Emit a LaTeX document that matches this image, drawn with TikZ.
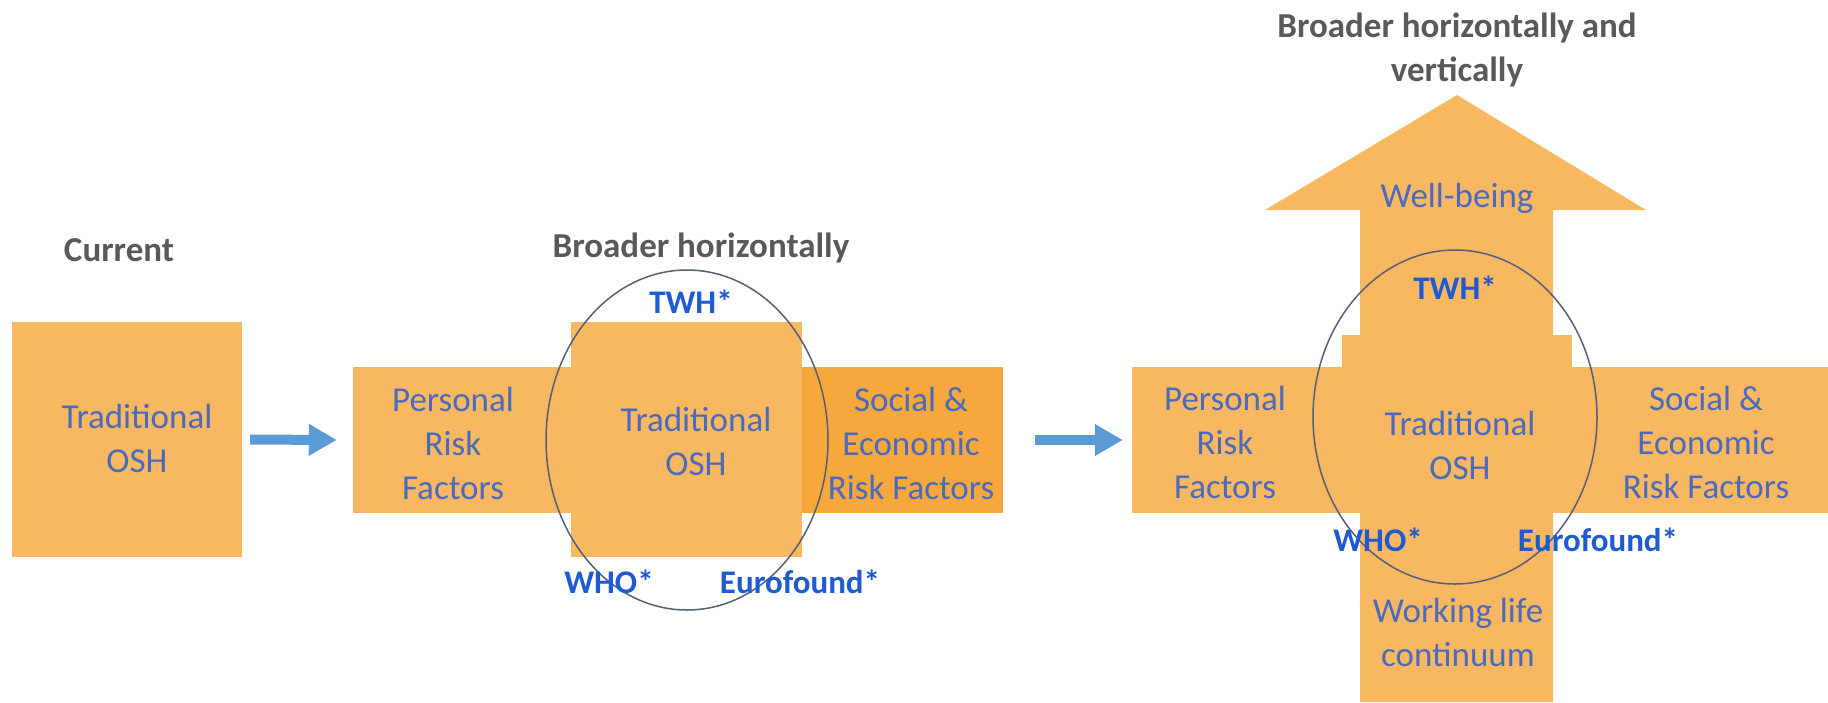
\documentclass[tikz,border=0pt]{standalone}
\usepackage{fontspec}
\setmainfont{Carlito}
\usetikzlibrary{arrows.meta,shapes.geometric}
\definecolor{orng}{RGB}{248,184,98}
\definecolor{orngdark}{RGB}{246,168,60}
\definecolor{txtblue}{RGB}{74,106,190}
\definecolor{tagblue}{RGB}{30,90,210}
\definecolor{headgray}{RGB}{89,89,89}
\definecolor{arrblue}{RGB}{91,155,213}
\definecolor{ringc}{RGB}{85,95,120}
\begin{document}
\begin{tikzpicture}[x=1pt,y=-1pt,
  shp/.style={fill=orng, draw=none, inner sep=0pt, rectangle},
  lbl/.style={text=txtblue, font=\fontsize{35}{44}\selectfont, align=center, inner sep=0pt},
  tag/.style={text=tagblue, font=\fontsize{33}{40}\selectfont\bfseries, inner sep=0pt},
  head/.style={text=headgray, font=\fontsize{35}{44}\selectfont\bfseries, align=center, inner sep=0pt},
  flow/.style={draw=arrblue, line width=10pt, -{Triangle[length=28pt,width=30pt]}},
  ring/.style={draw=ringc, line width=1.5pt, ellipse, fill=none, inner sep=0pt}]
\useasboundingbox (0,0) rectangle (1828,702);

% ---------- left: current ----------
\node[shp, minimum width=230pt, minimum height=235pt] (cur) at (127,439.5) {};
\node[head] (hcur) at (119,250) {Current};
\node[lbl] (tcur) at (137,438) {Traditional\\OSH};

% ---------- middle: broader horizontally ----------
\node[shp, minimum width=218pt, minimum height=146pt] (mp) at (462,440) {};
\node[shp, fill=orngdark, minimum width=201pt, minimum height=146pt] (ms) at (902.5,440) {};
\node[shp, minimum width=231pt, minimum height=235pt] (mc) at (686.5,439.5) {};
\node[ring, minimum width=282pt, minimum height=340pt] (mring) at (687,440) {};
\node[head] (hmid) at (701,248) {Broader horizontally};
\node[lbl] (tmp) at (453,443) {Personal\\Risk\\Factors};
\node[lbl] (tmc) at (696,441) {Traditional\\OSH};
\node[lbl] (tms) at (911,443) {Social \&\\Economic\\Risk Factors};
\node[tag] (mtwh) at (691,302) {TWH*};
\node[tag] (mwho) at (609,582) {WHO*};
\node[tag] (meuro) at (800,582) {Eurofound*};

% ---------- right: broader horizontally and vertically ----------
\fill[orng] (1360,702) -- (1360,210) -- (1265,210) -- (1457,95) -- (1646,210)
  -- (1553,210) -- (1553,702) -- cycle;
\node[shp, minimum width=230pt, minimum height=178pt] (rstep) at (1457,424) {};
\node[shp, minimum width=696pt, minimum height=146pt] (rbar) at (1480,440) {};
\node[ring, minimum width=284pt, minimum height=334pt] (rring) at (1455,417) {};
\node[head] (hright) at (1457,50) {Broader horizontally and\\vertically};
\node[lbl] (trw) at (1457,198) {Well-being};
\node[lbl] (trp) at (1225,442) {Personal\\Risk\\Factors};
\node[lbl] (trc) at (1460,445) {Traditional\\OSH};
\node[lbl] (trs) at (1706,442) {Social \&\\Economic\\Risk Factors};
\node[lbl] (trl) at (1458,632) {Working life\\continuum};
\node[tag] (rtwh) at (1455,288) {TWH*};
\node[tag] (rwho) at (1378,540) {WHO*};
\node[tag] (reuro) at (1598,540) {Eurofound*};

% ---------- flow arrows ----------
\draw[flow] ([xshift=8pt]cur.east) -- ([xshift=-16pt]mp.west);
\draw[flow] ([xshift=32pt]ms.east) -- ([xshift=-9pt]rbar.west);
\end{tikzpicture}
\end{document}
